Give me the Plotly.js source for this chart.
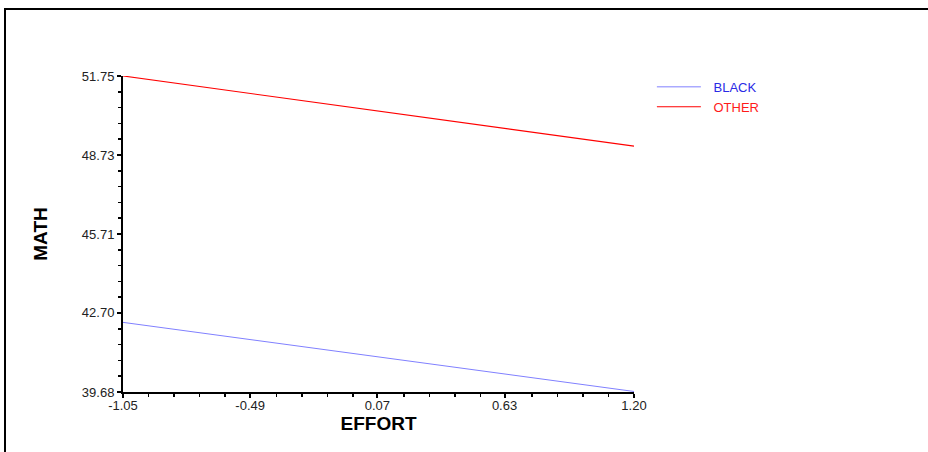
<!DOCTYPE html>
<html>
<head>
<meta charset="utf-8">
<script src="https://cdn.plot.ly/plotly-3.0.1.min.js"></script>
<style>
html,body{margin:0;padding:0;background:#fff;}
#wrap{position:relative;width:928px;height:452px;}
#chart{width:928px;height:452px;}
#frame{position:absolute;left:4px;top:8px;right:0;bottom:0;border-top:2px solid #000;border-left:2px solid #000;pointer-events:none;}
</style>
</head>
<body>
<div id="wrap"><div id="chart"></div><div id="frame"></div></div>
<script>
const effort = [-1.05, 1.20];
const mathBlack = [42.34, 39.70];
const mathOther = [51.75, 49.07];
const seriesNames = ['BLACK', 'OTHER'];
const xTickVals = [-1.05, -0.49, 0.07, 0.63, 1.20];
const xTickText = ['-1.05', '-0.49', '0.07', '0.63', '1.20'];
const yTickVals = [39.68, 42.70, 45.71, 48.73, 51.75];
const yTickText = ['39.68', '42.70', '45.71', '48.73', '51.75'];

function minorVals(lo, hi, n) {
  const out = [];
  const step = (hi - lo) / n;
  for (let i = 1; i < n; i++) {
    const v = lo + i * step;
    if (i % 5 !== 0) out.push(v);
  }
  return out;
}

const traces = [
  {x: effort, y: mathBlack, mode: 'lines', name: '\u2002\u200a<span style="color:#2a2ae6">' + seriesNames[0] + '</span>',
   line: {color: '#8080ff', width: 1}},
  {x: effort, y: mathOther, mode: 'lines', name: '\u2002\u200a<span style="color:#ff1a1a">' + seriesNames[1] + '</span>',
   line: {color: '#ff0000', width: 1.2}}
];

const tickFont = {family: 'Liberation Sans, Arial, sans-serif', size: 13, color: '#222'};
const titleFont = {family: 'Liberation Sans, Arial, sans-serif', size: 19, color: '#000', weight: 'bold'};

const layout = {
  width: 928, height: 452,
  margin: {l: 123, r: 294, t: 76, b: 60},
  paper_bgcolor: '#fff', plot_bgcolor: '#fff',
  showlegend: true,
  legend: {x: 1.035, y: 1.013, xanchor: 'left', yanchor: 'top', bgcolor: 'rgba(0,0,0,0)',
    font: {family: 'Liberation Sans, Arial, sans-serif', size: 13}, itemwidth: 44, tracegroupgap: 0},
  xaxis: {
    range: [-1.05, 1.20], tickmode: 'array', tickvals: xTickVals, ticktext: xTickText,
    showgrid: false, zeroline: false, showline: true, linecolor: '#000', linewidth: 2,
    ticks: 'outside', ticklen: 4, tickwidth: 2, tickcolor: '#000', tickfont: tickFont,
    ticklabelstandoff: -4,
    minor: {tickvals: minorVals(-1.05, 1.20, 20), ticks: 'outside', ticklen: 3, tickwidth: 1.5, tickcolor: '#000', showgrid: false},
    title: {text: 'EFFORT', font: titleFont, standoff: 2}
  },
  yaxis: {
    range: [39.68, 51.75], tickmode: 'array', tickvals: yTickVals, ticktext: yTickText,
    showgrid: false, zeroline: false, showline: true, linecolor: '#000', linewidth: 2,
    ticks: 'outside', ticklen: 4, tickwidth: 2, tickcolor: '#000', tickfont: tickFont,
    minor: {tickvals: minorVals(39.68, 51.75, 20), ticks: 'outside', ticklen: 3, tickwidth: 1.5, tickcolor: '#000', showgrid: false},
    title: {text: 'MATH', font: titleFont, standoff: 29}
  }
};

Plotly.newPlot('chart', traces, layout, {displayModeBar: false, staticPlot: true});
</script>
</body>
</html>
